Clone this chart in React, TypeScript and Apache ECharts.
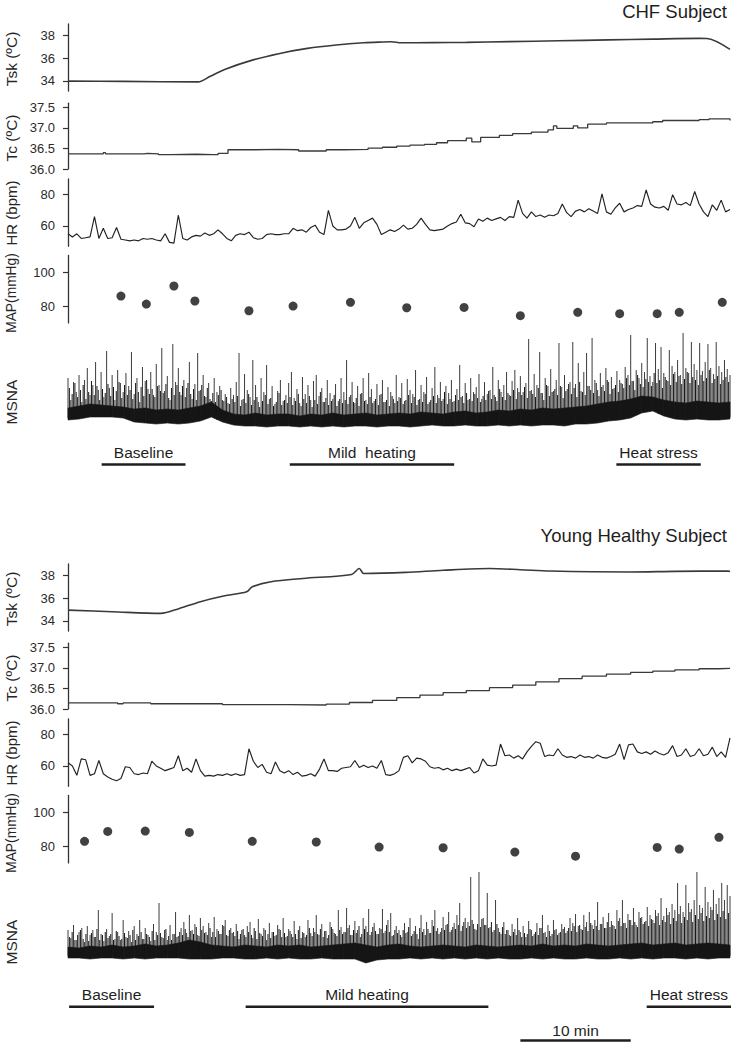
import React, { useEffect, useRef } from "react";
import * as echarts from "echarts";

// ---------------- tick labels ----------------
const tskTicks = [34, 36, 38];
const tcTicks = [36.0, 36.5, 37.0, 37.5];
const hrTicks = [60, 80];
const mapTicks = [80, 100];

// ---------------- CHF subject ----------------
const chfTitle = "CHF Subject";
const chfTskT = [0, 5, 11.8, 12.9, 14.2, 16.7, 19.2, 21.7, 24.3, 26.8, 28.5, 29.3, 30.2, 33, 36.1, 40, 44.5, 49, 53, 57.2, 57.9, 60];
const chfTskV = [33.97, 33.95, 33.9, 34.4, 35.0, 35.82, 36.41, 36.85, 37.15, 37.35, 37.42, 37.44, 37.35, 37.36, 37.38, 37.45, 37.52, 37.6, 37.67, 37.73, 37.72, 36.77];
const chfTcT = [0, 2.3, 3.2, 3.4, 5, 6.9, 7.2, 8.2, 9.3, 11.6, 13.1, 13.6, 14.5, 17, 19, 20.9, 23.4, 25, 27.2, 28.5, 29.8, 31, 32.3, 33.4, 34.4, 36.1, 36.6, 37.4, 39.1, 40.3, 42, 43.5, 44, 44.3, 45.8, 46.2, 47.1, 48.8, 53, 53.9, 57.2, 58.1, 60];
const chfTcV = [36.37, 36.37, 36.4, 36.37, 36.37, 36.38, 36.37, 36.35, 36.36, 36.35, 36.35, 36.38, 36.47, 36.48, 36.47, 36.44, 36.47, 36.48, 36.51, 36.53, 36.56, 36.58, 36.6, 36.64, 36.69, 36.75, 36.66, 36.77, 36.82, 36.86, 36.9, 36.95, 37.05, 36.99, 37.05, 37.0, 37.09, 37.12, 37.15, 37.18, 37.2, 37.22, 37.18];
const chfHr = [55, 53, 55, 52, 52.5, 53, 66, 52, 58.5, 52, 52.5, 59, 51.5, 51, 50.5, 51, 50.5, 52, 51.5, 52, 51, 50.5, 55, 49.5, 49, 67, 52, 51, 53, 54, 53.5, 55.5, 54, 55, 57.5, 55, 52, 50.5, 54, 55, 54.5, 56, 52.5, 51.5, 52, 54.5, 55, 54.5, 54.5, 55, 55, 58.5, 57, 57.5, 56, 59, 60.5, 56, 54.5, 70, 60, 57.5, 57.5, 58, 60, 65.5, 58.5, 62, 63.5, 65, 61, 54.5, 56, 57.5, 56.5, 58, 60.5, 58, 58.5, 61, 65, 61, 57.5, 57, 57.5, 58, 60, 61.5, 62.5, 67.5, 62, 61.5, 59.5, 64.5, 63, 65, 63.5, 64.5, 65.5, 63.5, 66, 65.5, 76.5, 68, 65, 69, 66, 67, 65.5, 67, 66.5, 68, 74, 68.5, 66, 69.5, 70.5, 69, 71, 69.5, 68, 80.5, 69, 67.5, 71.5, 74.5, 69, 70.5, 71.5, 73, 72.5, 83, 74, 72, 71.5, 72.5, 70, 80, 74, 73.5, 75, 73, 82, 74, 69, 66, 73.5, 70, 76.5, 69, 70.5];
const chfMapT = [4.8, 7.1, 9.6, 11.5, 16.4, 20.4, 25.6, 30.7, 35.9, 41.0, 46.2, 50.0, 53.4, 55.4, 59.3];
const chfMapV = [85.9, 81.2, 91.9, 83.0, 77.2, 80.0, 82.2, 79.0, 79.2, 74.3, 76.3, 75.5, 75.5, 76.3, 82.2];
const chfMsnaFloor = [10, 11, 13, 13, 13, 12, 8, 7, 6, 7, 6, 7, 9, 13, 8, 5, 4, 4, 3, 4, 4, 3, 4, 3, 4, 3, 4, 4, 3, 4, 4, 3, 4, 5, 4, 4, 5, 4, 4, 5, 4, 5, 4, 5, 5, 4, 6, 6, 7, 9, 10, 12, 17, 19, 14, 11, 10, 11, 10, 10, 11];
const chfMsnaTop = [22, 24, 26, 25, 24, 23, 21, 22, 20, 21, 20, 22, 24, 28, 20, 16, 15, 17, 15, 16, 16, 14, 16, 15, 17, 15, 16, 17, 15, 16, 17, 16, 18, 17, 16, 18, 19, 17, 18, 20, 19, 21, 20, 22, 21, 22, 23, 24, 26, 28, 29, 31, 34, 33, 30, 28, 27, 29, 28, 27, 28];
const chfMsnaSpikes = [
  52, 30, 48, 38, 55, 28, 50, 62, 35, 45, 68, 40, 58, 33, 79, 42, 55, 30, 60, 47,
  38, 57, 44, 78, 36, 52, 28, 63, 49, 41, 58, 35, 66, 45, 82, 39, 54, 30, 86, 48,
  62, 35, 50, 42, 68, 31, 46, 77, 40, 55, 33, 47, 29, 52, 38, 44, 30, 36, 27, 42,
  35, 48, 77, 30, 56, 40, 33, 70, 45, 28, 52, 38, 65, 31, 44, 26, 39, 50, 29, 35,
  47, 58, 32, 41, 27, 53, 36, 45, 30, 49, 55, 34, 42, 28, 50, 37, 31, 46, 29, 52,
  38, 70, 33, 48, 27, 44, 36, 52, 30, 57, 41, 29, 46, 35, 50, 28, 43, 38, 31, 55,
  33, 47, 29, 51, 40, 36, 60, 30, 45, 38, 53, 28, 42, 63, 35, 48, 31, 44, 37, 50,
  29, 41, 65, 34, 47, 30, 52, 38, 43, 56, 31, 48, 36, 40, 63, 33, 50, 38, 45, 58,
  35, 49, 60, 42, 54, 38, 47, 91, 40, 56, 45, 78, 37, 52, 44, 61, 39, 50, 87, 43,
  55, 41, 48, 88, 46, 67, 39, 58, 77, 44, 92, 50, 40, 57, 45, 62, 48, 53, 42, 59,
  50, 46, 63, 55, 95, 49, 60, 52, 67, 58, 92, 54, 48, 87, 61, 83, 57, 50, 80, 64,
  58, 70, 55, 97, 62, 57, 88, 66, 60, 87, 59, 68, 86, 62, 56, 88, 64, 58, 70, 61, 55,
];
const chfMsnaMid = [
  42, 36, 47, 33, 40, 45, 31, 38, 49, 35, 44, 30, 41, 37, 46, 34, 43, 39, 48, 32,
  45, 35, 40, 31, 47, 38, 43, 34, 50, 36, 41, 33, 44, 39, 37, 46, 32, 42, 35, 45,
  38, 44, 33, 47, 36, 41, 30, 39, 45, 34, 42, 31, 37, 28, 35, 40, 29, 33, 26, 31,
  28, 34, 24, 31, 27, 36, 25, 30, 33, 23, 29, 35, 26, 32, 24, 28, 37, 25, 30, 27,
  33, 25, 29, 36, 24, 31, 27, 34, 23, 30, 26, 38, 28, 32, 25, 29, 35, 24, 31, 27,
  30, 26, 35, 28, 32, 24, 37, 29, 26, 33, 27, 31, 25, 36, 28, 30, 24, 34, 27, 29,
  32, 26, 30, 35, 27, 33, 25, 31, 28, 36, 26, 30, 34, 27, 32, 29, 38, 26, 31, 28,
  35, 30, 33, 27, 37, 31, 29, 36, 32, 28, 34, 30, 39, 31, 35, 29, 41, 33, 30, 37,
  34, 40, 31, 38, 35, 43, 32, 39, 36, 33, 42, 37, 30, 45, 34, 38, 41, 35, 44, 32,
  39, 46, 36, 42, 33, 48, 38, 35, 44, 40, 37, 47, 34, 43, 39, 50, 36, 41, 45, 38,
  47, 42, 52, 45, 49, 40, 55, 46, 43, 51, 48, 44, 57, 47, 50, 42, 53, 49, 45, 56,
  48, 54, 46, 51, 58, 47, 53, 50, 45, 55, 49, 52, 60, 47, 51, 54, 46, 50, 53, 48,
];
const chfPeriodNames = ["Baseline", "Mild  heating", "Heat stress"];
const chfPeriodStart = [3.05, 20.1, 49.7];
const chfPeriodEnd = [10.65, 35.0, 57.35];

// ---------------- Young healthy subject ----------------
const yhTitle = "Young Healthy Subject";
const yhTskT = [0, 4, 8.4, 10.1, 12, 14.1, 16.2, 16.7, 18.4, 21.3, 25.7, 26.4, 26.8, 30.6, 34, 38.2, 41, 43.7, 50.9, 55, 59.7, 60];
const yhTskV = [34.94, 34.8, 34.65, 35.09, 35.68, 36.18, 36.56, 37.0, 37.44, 37.73, 38.08, 38.6, 38.17, 38.26, 38.45, 38.6, 38.5, 38.38, 38.3, 38.35, 38.38, 38.35];
const yhTcT = [0, 4, 4.5, 5, 7, 7.5, 10, 14, 20, 23.4, 25.5, 27.6, 29.8, 31.9, 34, 36.1, 38.2, 40.3, 42.4, 44.5, 46.6, 48.8, 51, 53, 55, 57.2, 59, 60];
const yhTcV = [36.15, 36.15, 36.13, 36.15, 36.15, 36.13, 36.13, 36.11, 36.1, 36.12, 36.16, 36.21, 36.28, 36.34, 36.4, 36.45, 36.52, 36.58, 36.66, 36.74, 36.8, 36.85, 36.89, 36.92, 36.95, 36.98, 36.99, 37.0];
const yhHr = [62, 60, 54, 64.5, 64, 54, 55, 63.5, 55, 53, 51.5, 50.5, 52, 59.5, 59, 55, 54.5, 55.5, 55, 63, 60, 58.5, 57, 58, 59, 66.5, 57, 58.5, 56, 64.5, 57, 53.5, 54, 53.5, 54.5, 54, 55, 54, 55, 54, 54.5, 71, 63, 59, 61, 56, 55, 62.5, 57, 55.5, 57, 54.5, 56, 53.5, 54, 55, 53.5, 58, 64.5, 57, 57, 56.5, 58.5, 59, 59.5, 63.5, 59, 60.5, 59, 60, 58.5, 63.5, 54.5, 54, 55, 57, 65.5, 66.5, 62, 65, 64.5, 63, 59.5, 58.5, 59, 57.5, 58.5, 57, 58, 57, 58, 59, 55.5, 57, 64.5, 60.5, 60, 60.5, 74, 66.5, 67, 65, 66.5, 64.5, 69, 72.5, 75.5, 74.5, 66, 67, 66.5, 71, 67, 65.5, 66, 65, 67, 65.5, 66, 65, 67, 65.5, 65, 66, 67.5, 74, 64, 73.5, 74, 69, 68, 69, 67.5, 69.5, 68, 67, 68.5, 73, 66, 67, 71, 66, 67, 71, 66.5, 67.5, 72, 66, 69, 65.5, 78];
const yhMapT = [1.5, 3.6, 7.0, 11.0, 16.7, 22.5, 28.2, 34.0, 40.5, 46.0, 53.4, 55.4, 59.0];
const yhMapV = [82.8, 88.7, 88.9, 88.1, 82.8, 82.4, 79.4, 79.0, 76.4, 74.0, 79.2, 78.2, 85.2];
const yhMsnaFloor = [12, 12, 11, 12, 12, 11, 12, 11, 12, 12, 12, 11, 11, 11, 12, 12, 11, 11, 12, 11, 12, 11, 11, 12, 11, 11, 11, 7, 10, 11, 11, 12, 11, 12, 11, 12, 11, 12, 11, 12, 11, 11, 12, 11, 12, 11, 11, 12, 11, 11, 12, 11, 12, 11, 12, 12, 11, 12, 11, 12, 12];
const yhMsnaTop = [23, 22, 24, 23, 25, 23, 24, 26, 24, 25, 27, 30, 28, 25, 24, 23, 25, 24, 23, 25, 24, 25, 23, 24, 25, 26, 27, 25, 23, 25, 26, 24, 23, 24, 25, 24, 23, 25, 24, 23, 24, 25, 24, 26, 24, 25, 24, 26, 25, 24, 25, 26, 27, 25, 26, 27, 25, 26, 27, 26, 25];
const yhMsnaSpikes = [
  40, 32, 45, 30, 38, 42, 28, 44, 35, 40, 33, 60, 36, 29, 41, 34, 57, 31, 38, 30,
  50, 33, 39, 28, 44, 36, 50, 31, 42, 35, 29, 46, 38, 67, 33, 40, 30, 45, 36, 58,
  34, 42, 48, 37, 55, 40, 46, 35, 52, 44, 38, 47, 33, 53, 41, 36, 45, 50, 34, 42,
  38, 46, 31, 40, 35, 44, 48, 32, 39, 51, 36, 42, 30, 47, 38, 34, 45, 40, 52, 33,
  41, 36, 49, 31, 44, 38, 33, 50, 37, 42, 55, 35, 46, 39, 32, 48, 41, 36, 60, 43,
  38, 62, 45, 35, 49, 40, 33, 52, 44, 61, 38, 47, 36, 42, 61, 39, 50, 57, 35, 44,
  40, 33, 47, 38, 52, 36, 44, 31, 55, 41, 48, 37, 50, 60, 42, 38, 53, 45, 58, 40,
  47, 55, 67, 44, 52, 48, 93, 46, 40, 98, 51, 45, 77, 43, 38, 70, 42, 36, 48, 40,
  35, 46, 41, 52, 38, 44, 33, 49, 40, 36, 47, 42, 55, 38, 45, 34, 50, 41, 37, 46,
  43, 39, 52, 47, 56, 44, 41, 55, 48, 58, 45, 50, 68, 46, 53, 42, 57, 49, 44, 60,
  52, 70, 47, 56, 50, 62, 45, 58, 53, 48, 63, 55, 50, 60, 57, 72, 54, 62, 58, 66,
  60, 87, 64, 58, 85, 67, 61, 70, 98, 65, 62, 83, 68, 63, 80, 66, 72, 87, 70, 85, 74,
];
const yhMsnaMid = [
  33, 38, 30, 35, 40, 31, 36, 29, 37, 33, 41, 30, 35, 38, 32, 36, 30, 39, 34, 31,
  37, 32, 35, 40, 30, 34, 38, 31, 36, 33, 39, 30, 35, 37, 32, 41, 34, 30, 36, 33,
  38, 35, 41, 33, 39, 36, 43, 34, 40, 37, 35, 42, 38, 33, 39, 36, 44, 35, 40, 37,
  34, 39, 36, 41, 33, 38, 35, 42, 31, 37, 34, 40, 36, 32, 38, 35, 41, 33, 37, 34,
  39, 33, 36, 40, 32, 37, 35, 42, 34, 38, 36, 41, 33, 39, 35, 43, 37, 34, 40, 36,
  38, 42, 35, 40, 37, 44, 36, 41, 38, 35, 43, 39, 36, 41, 37, 45, 38, 34, 40, 37,
  35, 40, 37, 43, 34, 39, 36, 42, 38, 35, 41, 37, 44, 39, 36, 42, 40, 46, 38, 43,
  41, 45, 39, 48, 42, 44, 50, 41, 46, 43, 52, 45, 42, 48, 40, 46, 38, 43, 36, 40,
  34, 38, 35, 40, 33, 37, 36, 41, 34, 38, 35, 42, 37, 33, 39, 36, 40, 35, 38, 41,
  37, 42, 39, 44, 38, 45, 40, 43, 39, 47, 41, 44, 40, 46, 42, 48, 43, 45, 41, 49,
  44, 47, 42, 50, 45, 48, 43, 52, 46, 49, 44, 51, 47, 54, 45, 50, 48, 55, 46, 52,
  49, 56, 47, 53, 50, 58, 48, 55, 51, 57, 49, 54, 52, 60, 50, 56, 53, 59, 51, 57,
];
const yhPeriodNames = ["Baseline", "Mild heating", "Heat stress"];
const yhPeriodStart = [0.1, 16.1, 52.45];
const yhPeriodEnd = [7.8, 38.1, 60.1];
const scaleBarLabel = "10 min";
const scaleBarStart = 41.0;
const scaleBarMinutes = 10;

// ---------------- layout / style ----------------
const FONT = '"Liberation Sans", Arial, Helvetica, sans-serif';
const INK = "#1e1e1e";
const AXIS = "#333333";
const LEFT = 68;
const PLOT_W = 662;
const T_MAX = 60;

const ROWS = [
  { top: 24, height: 67, min: 33.1, max: 39.0, ticks: tskTicks, digits: 0, name: "Tsk (ºC)", nameY: 59, nameSize: 15.5 },
  { top: 103.2, height: 65.9, min: 36.0, max: 37.6, ticks: tcTicks, digits: 1, name: "Tc (ºC)", nameY: 138, nameSize: 15.5 },
  { top: 179, height: 67.3, min: 47, max: 90, ticks: hrTicks, digits: 0, name: "HR (bpm)", nameY: 213, nameSize: 15 },
  { top: 255.5, height: 67.4, min: 70, max: 110, ticks: mapTicks, digits: 0, name: "MAP(mmHg)", nameY: 293, nameSize: 13.8 },
  { top: 330, height: 100, min: 0, max: 100, ticks: null as number[] | null, digits: 0, name: "MSNA", nameY: 402, nameSize: 15.5 },
  { top: 440, height: 60, min: 0, max: 60, ticks: null as number[] | null, digits: 0, name: "", nameY: 0, nameSize: 15 },
];

const pairs = (t: number[], v: number[]) => t.map((x, i) => [x, v[i]]);
const uniform = (v: number[]) => v.map((y, i) => [(i * T_MAX) / (v.length - 1), y]);

function buildOption() {
  const grid: any[] = [];
  const xAxis: any[] = [];
  const yAxis: any[] = [];
  const series: any[] = [];
  const graphic: any[] = [];

  const panels = [
    {
      off: 0, title: chfTitle, titleY: 11,
      tsk: pairs(chfTskT, chfTskV), tc: pairs(chfTcT, chfTcV), hr: uniform(chfHr),
      map: pairs(chfMapT, chfMapV), floor: chfMsnaFloor, top: chfMsnaTop,
      spikes: chfMsnaSpikes, mid: chfMsnaMid,
      names: chfPeriodNames, starts: chfPeriodStart, ends: chfPeriodEnd,
      textDy: 12, lineDy: 24.5, scaleBar: false,
    },
    {
      off: 540, title: yhTitle, titleY: 535,
      tsk: pairs(yhTskT, yhTskV), tc: pairs(yhTcT, yhTcV), hr: uniform(yhHr),
      map: pairs(yhMapT, yhMapV), floor: yhMsnaFloor, top: yhMsnaTop,
      spikes: yhMsnaSpikes, mid: yhMsnaMid,
      names: yhPeriodNames, starts: yhPeriodStart, ends: yhPeriodEnd,
      textDy: 14, lineDy: 26.7, scaleBar: true,
    },
  ];

  panels.forEach((p) => {
    const base = grid.length;
    ROWS.forEach((r, k) => {
      grid.push({ left: LEFT, width: PLOT_W, top: r.top + p.off, height: r.height, containLabel: false });
      xAxis.push({ type: "value", gridIndex: base + k, min: 0, max: T_MAX, show: false });
      const hasAxis = !!r.ticks;
      yAxis.push({
        type: "value",
        gridIndex: base + k,
        min: r.min,
        max: r.max,
        show: hasAxis,
        axisLine: { show: hasAxis, lineStyle: { color: AXIS, width: 1.3 } },
        axisTick: hasAxis
          ? { show: true, length: 5, customValues: r.ticks, lineStyle: { color: AXIS, width: 1.2 } }
          : { show: false },
        axisLabel: hasAxis
          ? {
              show: true,
              customValues: r.ticks,
              formatter: (v: number) => Number(v).toFixed(r.digits),
              fontSize: 13,
              fontFamily: FONT,
              color: "#2b2b2b",
              margin: 13,
            }
          : { show: false },
        splitLine: { show: false },
      });
      if (r.name) {
        graphic.push({
          type: "text",
          x: 11,
          y: r.nameY + p.off,
          rotation: Math.PI / 2,
          style: {
            text: r.name,
            font: `${r.nameSize}px ${FONT}`,
            fill: "#262626",
            textAlign: "center",
            textVerticalAlign: "middle",
            align: "center",
            verticalAlign: "middle",
          },
        });
      }
    });

    // Tsk
    series.push({
      type: "line", xAxisIndex: base, yAxisIndex: base, data: p.tsk, showSymbol: false, smooth: 0.3,
      lineStyle: { color: "#3a3a3a", width: 1.6 }, silent: true,
    });
    // Tc
    series.push({
      type: "line", xAxisIndex: base + 1, yAxisIndex: base + 1, data: p.tc, showSymbol: false, step: "end",
      lineStyle: { color: "#3a3a3a", width: 1.3 }, silent: true,
    });
    // HR
    series.push({
      type: "line", xAxisIndex: base + 2, yAxisIndex: base + 2, data: p.hr, showSymbol: false,
      lineStyle: { color: "#222222", width: 1.15 }, silent: true,
    });
    // MAP
    series.push({
      type: "scatter", xAxisIndex: base + 3, yAxisIndex: base + 3, data: p.map, symbolSize: 9,
      itemStyle: { color: "#111111" }, silent: true,
    });
    // MSNA spikes (main bursts + in-between bursts)
    const floor = p.floor;
    const floorStep = T_MAX / (floor.length - 1);
    const floorAt = (t: number) => floor[Math.min(floor.length - 1, Math.round(t / floorStep))];
    const spikeData = p.spikes.map((v, i) => {
      const t = (i * T_MAX) / (p.spikes.length - 1);
      return [t, v, floorAt(t) + 2];
    });
    const midStep = T_MAX / p.mid.length;
    const midData = p.mid.map((v, i) => {
      const t = (i + 0.5) * midStep;
      return [t, v, floorAt(t) + 2];
    });
    const makeSpikeRender = (color: string, w: number) => (params: any, api: any) => {
      const a = api.coord([api.value(0), api.value(2)]);
      const b = api.coord([api.value(0), api.value(1)]);
      return {
        type: "line",
        shape: { x1: a[0], y1: a[1], x2: b[0], y2: b[1] },
        style: { stroke: color, lineWidth: w },
      };
    };
    series.push({ type: "custom", xAxisIndex: base + 4, yAxisIndex: base + 4, data: midData, silent: true, renderItem: makeSpikeRender("#161616", 1.0) });
    series.push({ type: "custom", xAxisIndex: base + 4, yAxisIndex: base + 4, data: spikeData, silent: true, renderItem: makeSpikeRender("#262626", 0.9) });
    // MSNA dense band
    const bandData = floor.slice(0, -1).map((f, i) => [
      i * floorStep, f, p.top[i], (i + 1) * floorStep, floor[i + 1], p.top[i + 1],
    ]);
    series.push({
      type: "custom", xAxisIndex: base + 4, yAxisIndex: base + 4, data: bandData, silent: true,
      renderItem: (params: any, api: any) => {
        const p1 = api.coord([api.value(0), api.value(1)]);
        const p2 = api.coord([api.value(3), api.value(4)]);
        const p3 = api.coord([api.value(3), api.value(5)]);
        const p4 = api.coord([api.value(0), api.value(2)]);
        return {
          type: "polygon",
          shape: { points: [p1, p2, p3, p4] },
          style: { fill: "#151515", stroke: "#151515", lineWidth: 0.6 },
        };
      },
    });
    // period annotations
    const names = p.names;
    const textDy = p.textDy;
    const lineDy = p.lineDy;
    series.push({
      type: "custom", xAxisIndex: base + 5, yAxisIndex: base + 5, silent: true,
      data: p.starts.map((s, k) => [s, p.ends[k], k]),
      renderItem: (params: any, api: any) => {
        const s = api.coord([api.value(0), 0]);
        const e = api.coord([api.value(1), 0]);
        const cy = params.coordSys.y;
        return {
          type: "group",
          children: [
            { type: "line", shape: { x1: s[0], y1: cy + lineDy, x2: e[0], y2: cy + lineDy }, style: { stroke: INK, lineWidth: 2.6 } },
            {
              type: "text",
              style: {
                text: names[api.value(2)], x: (s[0] + e[0]) / 2, y: cy + textDy,
                textAlign: "center", textVerticalAlign: "middle", align: "center", verticalAlign: "middle",
                font: `15.5px ${FONT}`, fill: INK,
              },
            },
          ],
        };
      },
    });
    if (p.scaleBar) {
      series.push({
        type: "custom", xAxisIndex: base + 5, yAxisIndex: base + 5, silent: true,
        data: [[scaleBarStart, scaleBarStart + scaleBarMinutes]],
        renderItem: (params: any, api: any) => {
          const s = api.coord([api.value(0), 0]);
          const e = api.coord([api.value(1), 0]);
          const cy = params.coordSys.y;
          return {
            type: "group",
            children: [
              { type: "line", shape: { x1: s[0], y1: cy + 60.5, x2: e[0], y2: cy + 60.5 }, style: { stroke: INK, lineWidth: 2.6 } },
              {
                type: "text",
                style: {
                  text: scaleBarLabel, x: (s[0] + e[0]) / 2, y: cy + 50,
                  textAlign: "center", textVerticalAlign: "middle", align: "center", verticalAlign: "middle",
                  font: `15.5px ${FONT}`, fill: INK,
                },
              },
            ],
          };
        },
      });
    }
    graphic.push({
      type: "text",
      x: 727,
      y: p.titleY,
      style: {
        text: p.title,
        font: `18.5px ${FONT}`,
        fill: "#1e1e1e",
        textAlign: "right",
        textVerticalAlign: "middle",
        align: "right",
        verticalAlign: "middle",
      },
    });
  });

  return {
    animation: false,
    backgroundColor: "#ffffff",
    grid, xAxis, yAxis, series, graphic,
  };
}

export default function App() {
  const ref = useRef<HTMLDivElement>(null);
  useEffect(() => {
    if (!ref.current) return;
    const chart = echarts.init(ref.current, undefined, { renderer: "svg" });
    chart.setOption(buildOption() as any);
    return () => chart.dispose();
  }, []);
  return (
    <div
      ref={ref}
      style={{ position: "absolute", left: 0, top: 0, width: 731, height: 1042, background: "#fff" }}
    />
  );
}
